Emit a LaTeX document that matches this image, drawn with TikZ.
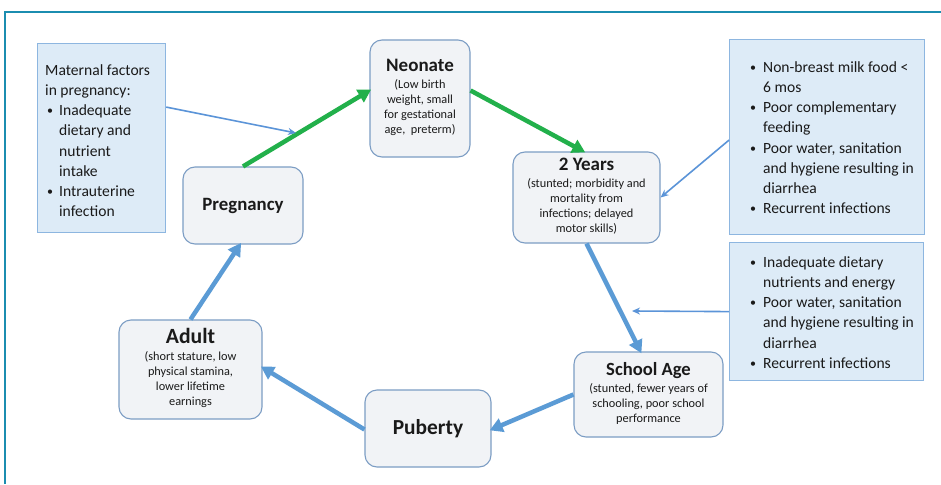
\documentclass[tikz,border=0pt]{standalone}
\usepackage{fontspec}
\setmainfont{Carlito}
\usetikzlibrary{arrows.meta,calc}
\definecolor{framecol}{HTML}{1B8DB0}
\definecolor{sidefill}{HTML}{DDEBF7}
\definecolor{sidedraw}{HTML}{8DB6E0}
\definecolor{cycfill}{HTML}{F1F3F6}
\definecolor{cycdraw}{HTML}{7C9DC4}
\definecolor{greenarr}{HTML}{22B04B}
\definecolor{bluearr}{HTML}{5B9BD5}
\definecolor{thinarr}{HTML}{5B94D8}
\definecolor{txt}{HTML}{1A1A1A}
\newcommand\cyctext[3]{\begin{tabular}{@{}c@{}}{\fontsize{#2}{#2}\selectfont\bfseries #1}\\[2pt] #3\end{tabular}}
\newcommand\bl{\raisebox{1pt}{\fontsize{12}{12}\selectfont\textbullet}}
\begin{document}
\begin{tikzpicture}[x=1pt,y=-1pt,
  sidebox/.style={draw=sidedraw, fill=sidefill, line width=1.2pt, text=txt,
    inner sep=0pt, anchor=north west},
  sidetext/.style={text=txt, font=\fontsize{15.6}{20.2}\selectfont, inner sep=0pt, anchor=north west},
  cycbox/.style={draw=cycdraw, fill=cycfill, line width=1.1pt, rounded corners=12pt,
    text=txt, font=\fontsize{12.3}{15}\selectfont, inner sep=0pt, align=center},
  greenline/.style={draw=greenarr, line width=4.5pt, -{Triangle[length=13pt,width=14pt]}, shorten >=-2pt},
  blueline/.style={draw=bluearr, line width=4.5pt, -{Triangle[length=13pt,width=14pt]}, shorten >=-2pt},
  thinline/.style={draw=thinarr, line width=1.6pt, -{Stealth[length=8pt,width=7pt]}}
]
\useasboundingbox (0,0) rectangle (941,484);
\fill[white] (0,0) rectangle (941,484);
\draw[framecol, line width=2pt] (5,484) -- (5,12) -- (941,12);

% side boxes
\node[sidebox, minimum width=128pt, minimum height=189pt] (maternal) at (37,43) {};
\node[sidetext] (maternaltxt) at (45,61)
  {\begin{tabular}{@{}l@{\hspace{6pt}}l@{}}
   \multicolumn{2}{@{}l@{}}{Maternal factors}\\
   \multicolumn{2}{@{}l@{}}{in pregnancy:}\\
   \hspace{2pt}\bl & Inadequate\\
   & dietary and\\
   & nutrient\\
   & intake\\
   \hspace{2pt}\bl & Intrauterine\\
   & infection
   \end{tabular}};

\node[sidebox, minimum width=195pt, minimum height=195pt] (rbox1) at (729,39) {};
\node[sidetext] (rbox1txt) at (750,58)
  {\begin{tabular}{@{}l@{\hspace{7pt}}l@{}}
   \bl & Non-breast milk food <\\
   & 6 mos\\
   \bl & Poor complementary\\
   & feeding\\
   \bl & Poor water, sanitation\\
   & and hygiene resulting in\\
   & diarrhea\\
   \bl & Recurrent infections
   \end{tabular}};

\node[sidebox, minimum width=194pt, minimum height=138pt] (rbox2) at (729,242) {};
\node[sidetext] (rbox2txt) at (750,253)
  {\begin{tabular}{@{}l@{\hspace{7pt}}l@{}}
   \bl & Inadequate dietary\\
   & nutrients and energy\\
   \bl & Poor water, sanitation\\
   & and hygiene resulting in\\
   & diarrhea\\
   \bl & Recurrent infections
   \end{tabular}};

% cycle nodes
\node[cycbox, minimum width=100pt, minimum height=117pt] (neonate) at (420,98.5)
  {\cyctext{Neonate}{19}{(Low birth\\weight, small\\for gestational\\age,\ \ preterm)}};
\node[cycbox, minimum width=147pt, minimum height=91pt] (twoyears) at (586.5,197.5)
  {\cyctext{2 Years}{19}{(stunted; morbidity and\\mortality from\\infections; delayed\\motor skills)}};
\node[cycbox, minimum width=149pt, minimum height=85pt] (school) at (648.5,394.5)
  {\cyctext{School Age}{18.6}{(stunted, fewer years of\\schooling, poor school\\performance}};
\node[cycbox, minimum width=126pt, minimum height=77pt, font=\fontsize{21.4}{21.4}\selectfont\bfseries] (puberty) at (428,428.5) {Puberty};
\node[cycbox, minimum width=143pt, minimum height=99pt] (adult) at (190.5,369.5)
  {\cyctext{Adult}{21.7}{(short stature, low\\physical stamina,\\lower lifetime\\earnings}};
\node[cycbox, minimum width=120pt, minimum height=77pt, font=\fontsize{18.8}{18.8}\selectfont\bfseries] (pregnancy) at (243,205.5) {Pregnancy};

% cycle arrows
\draw[greenline] (pregnancy.north) -- ($(neonate.west)+(0,-8)$);
\draw[greenline] ($(neonate.east)+(0,-8)$) -- ($(twoyears.north)+(-3,0)$);
\draw[blueline] (twoyears.south) -- ($(school.north)+(-8,0)$);
\draw[blueline] (school.west) -- ($(puberty.east)+(0,1)$);
\draw[blueline] ($(puberty.west)+(0,1)$) -- ($(adult.east)+(0,-2)$);
\draw[blueline] (adult.north) -- ($(pregnancy.south)+(-3,0)$);

% thin arrows
\coordinate (mtip) at (296,133);
\coordinate (stip) at (632,311);
\draw[thinline] ($(maternal.east)+(0,-31)$) -- (mtip);
\draw[thinline] ($(rbox1.west)+(0,3)$) -- (twoyears.east);
\draw[thinline] (rbox2.west) -- (stip);
\end{tikzpicture}
\end{document}
